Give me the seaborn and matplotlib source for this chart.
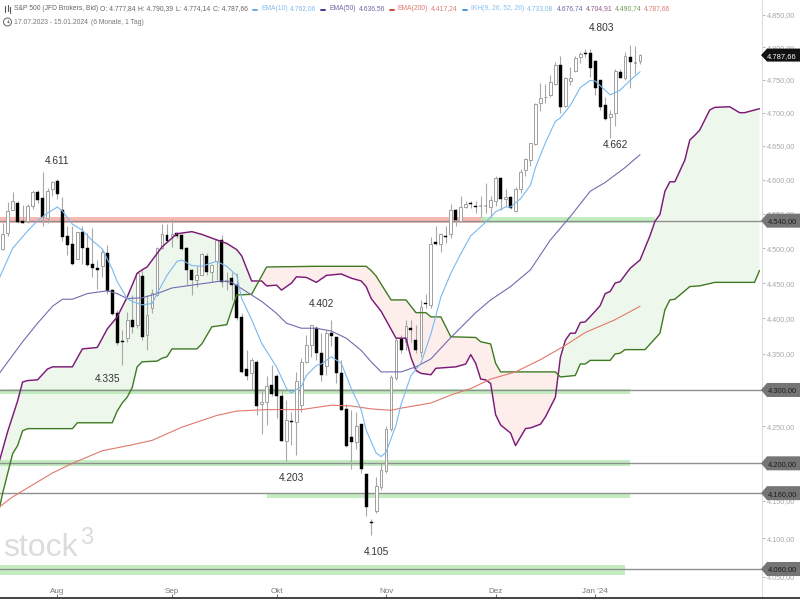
import numpy as np
import matplotlib
matplotlib.use("Agg")
import matplotlib.pyplot as plt
from matplotlib.patches import Polygon, Circle
from matplotlib.ticker import NullLocator
import seaborn as sns

# daily candles, 17.07.2023 - 15.01.2024
opens = [4499,4522,4556,4566,4539,4540,4561,4582,4573,4544,
         4587,4598,4556,4517,4506,4485,4524,4501,4477,4472,
         4474,4493,4440,4407,4368,4372,4398,4391,4460,4377,
         4414,4433,4500,4519,4517,4522,4519,4500,4469,4454,
         4462,4489,4466,4481,4512,4453,4457,4447,4402,4329,
         4324,4339,4280,4283,4307,4319,4292,4230,4257,4256,
         4279,4339,4362,4387,4351,4333,4379,4373,4323,4274,
         4235,4229,4253,4186,4122,4136,4168,4190,4247,4316,
         4371,4367,4387,4370,4353,4421,4419,4509,4506,4518,
         4520,4556,4540,4560,4566,4562,4562,4562,4560,4569,
         4602,4572,4574,4554,4587,4614,4629,4653,4714,4723,
         4726,4744,4773,4710,4748,4763,4785,4791,4791,4779,
         4749,4712,4694,4699,4761,4753,4784,4776,4778]
highs = [4536,4567,4582,4568,4563,4565,4585,4585,4611,4588,
         4598,4601,4575,4532,4532,4524,4532,4522,4529,4483,
         4498,4505,4442,4412,4384,4409,4433,4466,4469,4433,
         4441,4502,4535,4535,4542,4524,4520,4502,4470,4474,
         4493,4493,4478,4514,4519,4466,4466,4464,4407,4356,
         4344,4342,4298,4319,4335,4322,4302,4286,4270,4325,
         4344,4377,4391,4389,4379,4384,4398,4374,4342,4281,
         4272,4270,4253,4187,4126,4182,4200,4250,4321,4372,
         4377,4398,4398,4391,4426,4435,4516,4532,4522,4532,
         4565,4557,4576,4568,4568,4569,4576,4595,4576,4606,
         4604,4587,4576,4590,4616,4632,4655,4715,4745,4744,
         4757,4777,4786,4754,4769,4786,4792,4797,4797,4780,
         4750,4724,4704,4766,4767,4792,4803,4802,4790]
lows = [4498,4517,4555,4536,4536,4537,4557,4566,4532,4536,
        4576,4572,4511,4490,4476,4484,4478,4474,4459,4442,
        4459,4435,4405,4363,4335,4367,4379,4386,4370,4356,
        4407,4431,4499,4510,4502,4515,4498,4447,4433,4444,
        4461,4461,4452,4454,4445,4440,4426,4398,4323,4314,
        4300,4266,4240,4252,4291,4262,4230,4203,4225,4211,
        4270,4337,4346,4342,4312,4321,4361,4309,4272,4222,
        4193,4220,4187,4130,4105,4134,4164,4187,4244,4314,
        4351,4356,4367,4351,4346,4414,4414,4504,4494,4507,
        4515,4532,4539,4558,4558,4551,4546,4551,4546,4561,
        4556,4561,4557,4552,4580,4606,4620,4652,4702,4714,
        4724,4742,4700,4709,4742,4762,4775,4785,4754,4726,
        4704,4689,4662,4680,4752,4750,4738,4758,4774]
closes = [4520,4554,4569,4538,4537,4562,4582,4570,4545,4584,
          4596,4579,4516,4505,4477,4523,4500,4476,4471,4469,
          4494,4438,4406,4365,4367,4398,4388,4465,4374,4405,
          4436,4501,4520,4511,4520,4518,4499,4468,4454,4461,
          4492,4466,4476,4512,4452,4455,4447,4400,4325,4319,
          4341,4278,4284,4306,4294,4292,4230,4259,4256,4313,
          4339,4362,4390,4351,4321,4379,4375,4324,4272,4223,
          4229,4250,4192,4142,4121,4170,4191,4247,4318,4369,
          4356,4389,4384,4356,4416,4420,4506,4506,4520,4516,
          4556,4541,4560,4564,4565,4560,4561,4561,4570,4602,
          4572,4575,4558,4587,4611,4630,4654,4713,4722,4724,
          4746,4773,4708,4752,4753,4783,4790,4790,4768,4738,
          4708,4690,4698,4763,4753,4786,4777,4775,4788]

ema10_days = [-1,2,5,7,9,11,12,14,16,18,20,22,23,25,26,28,30,31,33,35,36,38,40,42,43,45,47,48,50,52,55,57,58,60,61,63,64,66,68,70,72,73,75,76,77,79,80,82,84,86,88,90,92,94,96,98,99,101,102,104,106,107,109,111,112,114,116,118,119,122,124,126,128]
ema10_vals = [4452,4500,4525,4540,4551,4560,4554,4535,4526,4511,4499,4470,4452,4428,4424,4419,4421,4435,4461,4481,4483,4475,4474,4479,4481,4474,4461,4428,4398,4365,4332,4302,4296,4305,4320,4334,4336,4346,4337,4302,4273,4245,4214,4209,4215,4252,4280,4320,4337,4378,4430,4464,4492,4518,4531,4545,4553,4560,4560,4572,4592,4618,4655,4687,4692,4711,4738,4749,4748,4727,4734,4749,4762]
ema50_days = [-1,4,7,10,12,14,17,21,23,25,28,31,34,38,41,44,46,48,52,55,57,60,63,66,69,72,74,76,78,80,83,86,90,95,98,102,106,110,114,118,121,125,128]
ema50_vals = [4320,4367,4393,4417,4427,4427,4435,4439,4435,4428,4429,4435,4443,4447,4450,4453,4451,4442,4424,4407,4393,4386,4386,4382,4372,4355,4339,4325,4325,4325,4332,4343,4373,4408,4426,4445,4469,4512,4546,4583,4596,4618,4637]
ema200_days = [-1,2,5,10,14,20,26,30,36,43,47,53,60,66,70,74,78,80,86,90,94,98,103,108,113,117,123,128]
ema200_vals = [4140,4155,4167,4187,4200,4217,4225,4231,4249,4265,4271,4273,4273,4279,4278,4274,4272,4275,4282,4293,4302,4315,4325,4342,4362,4380,4398,4417]

# Ichimoku cloud
span_a_days = [-1,1,3,4,5,7,9,10,14,16,19,21,23,25,27,28,29,32,35,38,40,43,45,47,48,50,52,53,55,56,58,59,61,63,65,68,70,72,73,74,76,79,81,82,83,84,86,87,89,91,93,94,95,96,97,98,99,100,102,103,105,106,108,109,111,112,113,114,115,116,117,119,120,121,122,123,124,126,128,130,131,132,133,134,135,137,138,139,140,142,143,146,148,149,151,152]
span_a_vals = [4195,4243,4285,4311,4313,4314,4329,4332,4332,4357,4359,4385,4402,4430,4464,4469,4473,4502,4521,4524,4520,4512,4507,4498,4489,4453,4453,4446,4447,4440,4450,4459,4458,4451,4461,4463,4457,4453,4445,4428,4410,4372,4372,4345,4327,4323,4321,4330,4331,4332,4336,4349,4337,4315,4314,4309,4266,4252,4241,4224,4247,4248,4253,4263,4290,4345,4369,4379,4379,4394,4395,4410,4418,4435,4438,4450,4452,4471,4483,4518,4539,4549,4583,4597,4597,4629,4659,4666,4674,4704,4708,4709,4700,4700,4704,4706]
span_b_days = [-1,0,2,3,4,5,14,15,22,23,24,25,26,27,28,31,32,33,34,39,40,42,45,47,50,53,63,73,74,75,78,81,83,85,86,88,90,95,96,98,99,100,111,112,115,116,117,118,122,123,124,125,129,132,133,134,135,138,140,143,151,152]
span_b_vals = [4130,4160,4213,4224,4244,4247,4247,4255,4255,4271,4282,4290,4303,4332,4339,4340,4344,4346,4357,4357,4364,4388,4391,4433,4434,4473,4474,4474,4468,4460,4426,4426,4408,4408,4402,4402,4374,4373,4367,4364,4337,4325,4325,4318,4320,4336,4336,4341,4341,4350,4351,4356,4356,4379,4412,4426,4427,4445,4446,4451,4451,4468]

# support / resistance zones
zone_lo = [4537, 4537, 4294, 4196.5, 4153, 4052.5]
zone_hi = [4545.5, 4545.5, 4302, 4204.5, 4160.6, 4065.5]
zone_start = [-1, 96, -1, -1, 53, -1]
zone_end = [97, 131, 126, 126, 126, 125]
zone_colors = ["#f7b3aa", "#bdecb9", "#bdecb9", "#bdecb9", "#bdecb9", "#bdecb9"]
line_levels = [4540, 4300, 4200, 4160, 4060]

# axis labels
month_days = [11, 34, 55, 77, 99, 119]
month_labels = ["Aug", "Sep", "Okt", "Nov", "Dez", "Jan '24"]
price_ticks = [4050,4100,4150,4200,4250,4300,4350,4400,4450,4500,4550,4600,4650,4700,4750,4800,4850]
# 4.300 and 4.200 sit exactly behind their tags
price_labels = ["4.050,00","4.100,00","4.150,00","","4.250,00","","4.350,00","4.400,00","4.450,00","4.500,00","4.550,00","4.600,00","4.650,00","4.700,00","4.750,00","4.800,00","4.850,00"]
tag_levels = [4540, 4300, 4200, 4160, 4060]
tag_labels = ["4.540,00", "4.300,00", "4.200,00", "4.160,00", "4.060,00"]
last_price = 4787.66
last_label = "4.787,66"

# swing high/low captions: day, price just off the wick, text
note_days = [11, 120.2, 123, 64, 21, 58, 75]
note_prices = [4628, 4829, 4651, 4420, 4315, 4180, 4082]
note_texts = ["4.611", "4.803", "4.662", "4.402", "4.335", "4.203", "4.105"]

sns.set_style("white")
plt.rcParams["font.family"] = ["Liberation Sans", "DejaVu Sans"]

fig = plt.figure(figsize=(8, 6), dpi=100)
ax = fig.add_axes([0, 3 / 600, 762 / 800, 597 / 600])
ax.set_yscale("log")
ax.set_xlim(-0.54, 152.5)
ax.set_ylim(4023.7, 4873)

# cloud shading
grid = np.arange(-1, 153)
a = np.interp(grid, span_a_days, span_a_vals)
b = np.interp(grid, span_b_days, span_b_vals)
ax.fill_between(grid, a, b, where=a >= b, interpolate=True, color="#eef7ec", lw=0, zorder=1)
ax.fill_between(grid, a, b, where=a <= b, interpolate=True, color="#fdeeec", lw=0, zorder=1)

# zones and their lines
for lo, hi, s, e, col in zip(zone_lo, zone_hi, zone_start, zone_end, zone_colors):
    ax.fill_between([s, e], lo, hi, color=col, alpha=0.9, lw=0, zorder=2)
for lvl in line_levels:
    ax.axhline(lvl, color="#909090", lw=1.0, zorder=2.5)

# candles
days = np.arange(len(opens))
o = np.array(opens)
c = np.array(closes)
ax.vlines(days, lows, highs, color="#a8a8a8", lw=0.8, zorder=3)
up = c >= o
ax.bar(days[up], (c - o)[up], bottom=o[up], width=0.56, color="white",
       edgecolor="#a0a0a0", linewidth=0.7, zorder=4)
ax.bar(days[~up], (o - c)[~up], bottom=c[~up], width=0.6, color="black",
       edgecolor="black", linewidth=0.3, zorder=4)

# indicator lines
sns.lineplot(x=span_a_days, y=span_a_vals, ax=ax, color="#7d1a78", lw=1.05, estimator=None, zorder=5)
sns.lineplot(x=span_b_days, y=span_b_vals, ax=ax, color="#3f7a22", lw=1.0, estimator=None, zorder=5)
sns.lineplot(x=ema200_days, y=ema200_vals, ax=ax, color="#e2786c", lw=0.8, estimator=None, zorder=6)
sns.lineplot(x=ema50_days, y=ema50_vals, ax=ax, color="#6e6cb0", lw=0.8, estimator=None, zorder=6)
sns.lineplot(x=ema10_days, y=ema10_vals, ax=ax, color="#7ab8ee", lw=0.8, estimator=None, zorder=6)

# axes
ax.yaxis.tick_right()
ax.yaxis.set_minor_locator(NullLocator())
ax.set_yticks(price_ticks)
ax.set_yticklabels(price_labels)
ax.tick_params(axis="y", length=2.2, width=0.8, color="#bbbbbb", labelcolor="#a8a8a8", labelsize=5.2, pad=1.5, right=True)
ax.set_xticks(month_days)
ax.set_xticklabels(month_labels)
ax.tick_params(axis="x", direction="in", length=2, width=0.8, color="#777777", labelcolor="#777777", labelsize=5.8, pad=-6.5, bottom=True)
for side in ["top", "left", "bottom"]:
    ax.spines[side].set_visible(False)
ax.spines["right"].set_color("#dddddd")
ax.set_xlabel("")
ax.set_ylabel("")
fig.add_artist(plt.Line2D([0, 1], [2.5 / 600, 2.5 / 600], color="#222222", lw=1.2))

# watermark
fig.text(3 / 800, 1 - 556 / 600, "stock", fontsize=23, color="#dcdcdc", va="baseline", zorder=1)
fig.text(80 / 800, 1 - 544 / 600, "3", fontsize=17, color="#dcdcdc", va="baseline", zorder=1)

# captions
for d, p, t in zip(note_days, note_prices, note_texts):
    ax.text(d, p, t, ha="center", va="center", fontsize=7.3, color="#333333", zorder=8)

# price tags on the right
fig.canvas.draw()
def tag(price, text, face, txt_color, h):
    y = ax.transData.transform((0, price))[1]
    pts = [(761, y), (767, y + h), (800, y + h), (800, y - h), (767, y - h)]
    fig.add_artist(Polygon(pts, closed=True, transform=None, facecolor=face, edgecolor="none", zorder=10))
    fig.text(782 / 800, y / 600, text, ha="center", va="center_baseline", fontsize=5.4,
             color=txt_color, zorder=11)

for lvl, lab in zip(tag_levels, tag_labels):
    tag(lvl, lab, "#757575", "#1c1c1c", 7)
tag(last_price, last_label, "#111111", "white", 6.5)

# header
head_color = "#666666"
def head(x, y, text, color=head_color):
    fig.text(x / 800, 1 - y / 600, text, fontsize=4.9, color=color, va="center")

head(14, 9, "S&P 500 (JFD Brokers, Bid)")
head(99.5, 9, "O: 4.777,84")
head(138, 9, "H: 4.790,39")
head(176, 9, "L: 4.774,14")
head(213, 9, "C: 4.787,66")
head(261, 9, "EMA(10)", "#86bdf0")
head(290, 9, "4.762,06", "#86bdf0")
head(330, 9, "EMA(50)", "#6a68a8")
head(359, 9, "4.636,56", "#6a68a8")
head(397, 9, "EMA(200)", "#e07a70")
head(431, 9, "4.417,24", "#e07a70")
head(471, 9, "IKH(9, 26, 52, 26)", "#86bdf0")
head(527, 9, "4.733,08", "#86bdf0")
head(557, 9, "4.676,74", "#6a68a8")
head(586, 9, "4.704,91", "#8e5a8e")
head(615, 9, "4.490,74", "#6f9a58")
head(644, 9, "4.787,66", "#e07a70")
head(14, 22, "17.07.2023 - 15.01.2024", "#777777")
head(91, 22, "(6 Monate, 1 Tag)", "#777777")

# little legend dashes and icons, drawn in figure pixels
def px_line(x0, y0, x1, y1, color, lw):
    fig.add_artist(plt.Line2D([x0 / 800, x1 / 800], [1 - y0 / 600, 1 - y1 / 600], color=color, lw=lw))

px_line(253, 9.5, 257, 9.5, "#5aa6ec", 1.3)
px_line(321, 9.5, 325, 9.5, "#2c2a86", 1.3)
px_line(390, 9.5, 394, 9.5, "#c9362c", 1.3)
px_line(463, 9.5, 467, 9.5, "#3d8fd8", 1.3)
px_line(5, 6, 5, 12, "#555555", 0.8)
px_line(7.5, 5, 7.5, 11, "#555555", 0.8)
px_line(10, 7, 10, 13, "#555555", 0.8)
fig.add_artist(Circle((7.5, 600 - 22), 4, transform=None, facecolor="none", edgecolor="#666666", lw=0.7))
px_line(7.5, 19.5, 7.5, 22, "#666666", 0.6)
px_line(7.5, 22, 9.5, 23, "#666666", 0.6)

fig.savefig("out.png", dpi=100)
